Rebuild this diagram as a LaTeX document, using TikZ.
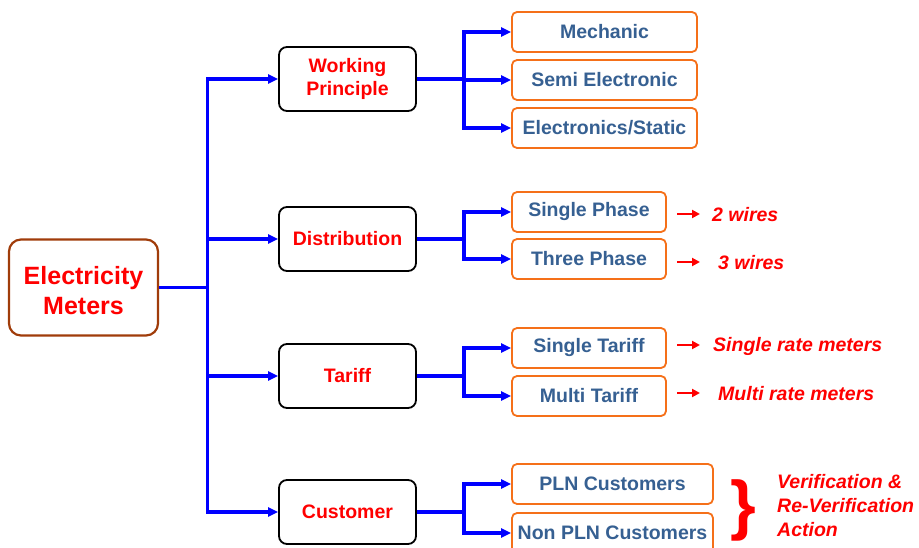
\documentclass[tikz,border=0pt]{standalone}
\usepackage{fontspec}
\setmainfont{Liberation Sans}
\usetikzlibrary{arrows.meta}
\definecolor{connblue}{RGB}{0,0,255}
\definecolor{boxorange}{RGB}{245,112,25}
\definecolor{txtblue}{RGB}{54,96,146}
\definecolor{rootbrown}{RGB}{160,60,10}
\definecolor{txtred}{RGB}{255,0,0}
\begin{document}
\begin{tikzpicture}[x=1pt,y=-1pt,
  rootbox/.style={draw=rootbrown,line width=2.2pt,rounded corners=12pt,fill=white,
    minimum width=149pt,minimum height=96pt,align=center,inner sep=0pt,
    text=txtred,font=\fontsize{25}{30}\selectfont\bfseries},
  catbox/.style={draw=black,line width=1.8pt,rounded corners=8pt,fill=white,
    minimum width=137pt,minimum height=64pt,align=center,inner sep=0pt,
    text=txtred,font=\fontsize{19.5}{23.5}\selectfont\bfseries},
  leafbox/.style={draw=boxorange,line width=1.8pt,rounded corners=5pt,fill=white,
    minimum height=40pt,inner sep=0pt,
    text=txtblue,font=\fontsize{19.5}{23.5}\selectfont\bfseries},
  note/.style={anchor=west,inner sep=0pt,text=txtred,
    font=\fontsize{19.5}{24}\selectfont\bfseries\itshape},
  conn/.style={draw=connblue,line width=3.2pt,-{Triangle[length=10pt,width=9pt]}},
  redarrow/.style={draw=txtred,line width=2.5pt,-{Triangle[length=8pt,width=8pt]}}
]
\useasboundingbox (0,0) rectangle (919,548);

% root
\node[rootbox] (root) at (83.5,287.5) {\rule{0pt}{24pt}Electricity\\Meters};

% level 1
\node[catbox] (wp)   at (347.5,79)  {Working\\Principle};
\node[catbox] (dist) at (347.5,239) {Distribution};
\node[catbox] (tar)  at (347.5,376) {Tariff};
\node[catbox] (cus)  at (347.5,512) {Customer};

% level 2
\node[leafbox,minimum width=185pt] (mech) at (604.5,32)  {Mechanic};
\node[leafbox,minimum width=185pt] (semi) at (604.5,80)  {Semi Electronic};
\node[leafbox,minimum width=185pt] (elec) at (604.5,128) {Electronics/Static};
\node[leafbox,minimum width=154pt] (sph)  at (589,212)   {Single Phase};
\node[leafbox,minimum width=154pt] (tph)  at (589,259)   {Three Phase};
\node[leafbox,minimum width=154pt] (stf)  at (589,348)   {Single Tariff};
\node[leafbox,minimum width=154pt] (mtf)  at (589,396)   {Multi Tariff};
\node[leafbox,minimum width=201pt] (pln)  at (612.5,484) {PLN Customers};
\node[leafbox,minimum width=201pt] (npln) at (612.5,533) {Non PLN Customers};

% annotations
\node[note] (w2) at (712,215) {2 wires};
\node[note] (w3) at (718,263) {3 wires};
\node[note] (srm) at (713,346) {Single rate meters};
\node[note] (mrm) at (718,394) {Multi rate meters};
\node[inner sep=0pt,text=txtred,font=\fontsize{66}{66}\selectfont\bfseries] (brace) at (743,510) {\}};
\node[note,align=left] (verif) at (777,506) {Verification \&\\Re-Verification\\Action};

% connectors root -> level 1
\foreach \t in {wp,dist,tar,cus}
  \draw[conn] (root.east) -- ++(48,0) |- (\t.west);

% level 1 -> level 2
\foreach \t in {mech,semi,elec}
  \draw[conn] (wp.east) -- ++(47,0) |- (\t.west);
\foreach \t in {sph,tph}
  \draw[conn] (dist.east) -- ++(47,0) |- (\t.west);
\foreach \t in {stf,mtf}
  \draw[conn] (tar.east) -- ++(47,0) |- (\t.west);
\foreach \t in {pln,npln}
  \draw[conn] (cus.east) -- ++(47,0) |- (\t.west);

% red arrows
\draw[redarrow] ([xshift=-35pt,yshift=1pt]w2.west) -- ([xshift=-12pt,yshift=1pt]w2.west);
\draw[redarrow] ([xshift=-41pt,yshift=1pt]w3.west) -- ([xshift=-18pt,yshift=1pt]w3.west);
\draw[redarrow] ([xshift=-36pt,yshift=1pt]srm.west) -- ([xshift=-13pt,yshift=1pt]srm.west);
\draw[redarrow] ([xshift=-41pt,yshift=1pt]mrm.west) -- ([xshift=-18pt,yshift=1pt]mrm.west);
\end{tikzpicture}
\end{document}
